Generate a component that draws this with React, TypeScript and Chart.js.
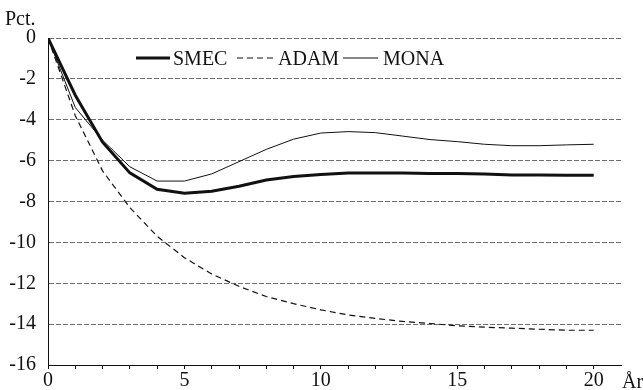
import React, { useEffect, useRef } from "react";
import { Chart, registerables } from "chart.js";

Chart.register(...registerables);

const years = [0, 1, 2, 3, 4, 5, 6, 7, 8, 9, 10, 11, 12, 13, 14, 15, 16, 17, 18, 19, 20];
const smec = [0, -2.8, -5.1, -6.6, -7.4, -7.6, -7.5, -7.25, -6.95, -6.78, -6.68, -6.6, -6.6, -6.6, -6.63, -6.63, -6.65, -6.7, -6.7, -6.72, -6.72];
const adam = [0, -3.8, -6.5, -8.3, -9.7, -10.75, -11.55, -12.15, -12.65, -13.0, -13.3, -13.55, -13.72, -13.87, -13.97, -14.08, -14.15, -14.2, -14.25, -14.3, -14.3];
const mona = [0, -3.4, -5.0, -6.3, -7.0, -7.0, -6.65, -6.05, -5.45, -4.95, -4.65, -4.58, -4.63, -4.8, -4.97, -5.07, -5.2, -5.27, -5.27, -5.23, -5.2];
const seriesNames = ["SMEC", "ADAM", "MONA"];
const yTicks = [0, -2, -4, -6, -8, -10, -12, -14, -16];
const xLabels = [0, 5, 10, 15, 20];

const FONT = "'Liberation Serif', 'Times New Roman', serif";

export default function App() {
  const ref = useRef<HTMLCanvasElement | null>(null);
  useEffect(() => {
    const canvas = ref.current;
    if (!canvas) return;
    const mk = (arr: number[]) => years.map((x, i) => ({ x, y: arr[i] }));
    const styles = [
      { width: 3, dash: [] as number[] },
      { width: 1.2, dash: [6, 4] },
      { width: 1, dash: [] as number[] },
    ];
    const extras = {
      id: "extras",
      afterDraw(chart: any) {
        const ctx = chart.ctx;
        ctx.save();
        ctx.fillStyle = "#111";
        ctx.font = `20px ${FONT}`;
        ctx.textBaseline = "alphabetic";
        ctx.textAlign = "left";
        ctx.fillText("Pct.", 5, 25);
        ctx.fillText("År", 622, 388);
        // legend
        const items = [
          { x0: 136, x1: 170, tx: 173 },
          { x0: 237, x1: 273, tx: 278 },
          { x0: 343, x1: 378, tx: 383 },
        ];
        const ly = 58;
        items.forEach((it, i) => {
          ctx.beginPath();
          ctx.strokeStyle = "#111";
          ctx.lineWidth = styles[i].width;
          ctx.setLineDash(styles[i].dash);
          ctx.moveTo(it.x0, ly);
          ctx.lineTo(it.x1, ly);
          ctx.stroke();
          ctx.setLineDash([]);
          ctx.fillText(seriesNames[i], it.tx, ly + 7);
        });
        ctx.restore();
      },
    };
    const chart = new Chart(canvas, {
      type: "line",
      data: {
        datasets: [smec, adam, mona].map((arr, i) => ({
          label: seriesNames[i],
          data: mk(arr),
          borderColor: "#111",
          borderWidth: styles[i].width,
          borderDash: styles[i].dash,
          pointRadius: 0,
          tension: 0,
          fill: false,
        })),
      },
      options: {
        animation: false,
        responsive: false,
        layout: { padding: { top: 38, right: 22, left: 0, bottom: 0 } },
        plugins: { legend: { display: false }, tooltip: { enabled: false } },
        scales: {
          x: {
            type: "linear",
            min: 0,
            max: 21,
            afterFit: (s: any) => { s.height = 25; },
            afterBuildTicks: (s: any) => {
              s.ticks = years.map((v) => ({ value: v }));
            },
            ticks: {
              autoSkip: false,
              maxRotation: 0,
              padding: 0,
              color: "#111",
              font: { family: FONT, size: 20 },
              callback: (v: any) => (xLabels.includes(Number(v)) ? String(v) : ""),
            },
            grid: { drawOnChartArea: false, drawTicks: true, tickLength: 4, color: "#111" },
            border: { display: true, color: "#111", width: 1 },
          },
          y: {
            type: "linear",
            min: -16,
            max: 0,
            afterFit: (s: any) => { s.width = 48; },
            afterBuildTicks: (s: any) => {
              s.ticks = yTicks.map((v) => ({ value: v }));
            },
            ticks: {
              padding: 12,
              color: "#111",
              font: { family: FONT, size: 20 },
              callback: (v: any) => String(v),
            },
            grid: { drawTicks: false, color: "#6e6e6e", lineWidth: 1 },
            border: { display: true, color: "#111", width: 1, dash: [5, 2] },
          },
        },
      },
      plugins: [extras],
    } as any);
    return () => chart.destroy();
  }, []);
  return (
    <div style={{ position: "absolute", left: 0, top: 0, width: 643, height: 390, background: "#fff" }}>
      <canvas ref={ref} width={643} height={390} style={{ display: "block" }} />
    </div>
  );
}
